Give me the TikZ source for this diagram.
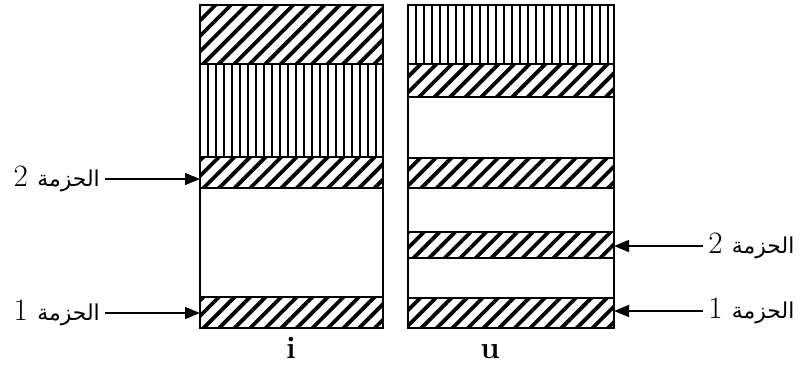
\documentclass[tikz,border=0pt]{standalone}
\usepackage{fontspec}
\newfontfamily\arabicfont[Script=Arabic]{DejaVu Sans}
\TeXXeTstate=1
\usetikzlibrary{positioning,arrows.meta,patterns.meta}
\newcommand\hizma{{\arabicfont\fontsize{17.5}{24}\selectfont\beginR الحزمة\endR}}
\tikzset{
  band/.style={draw=black,line width=1.5pt,anchor=north west,
    inner sep=0pt,outer sep=0pt},
  hatchband/.style={band,pattern={Lines[angle=45,distance=11pt,line width=3.8pt]}},
  stripeband/.style={band,pattern={Lines[angle=90,distance=8pt,line width=1.8pt]}},
  plainband/.style={band,fill=white},
  pointer/.style={-{Triangle[length=15pt,width=12pt]},line width=1.6pt},
  tag/.style={font=\Huge,scale=1.25,inner xsep=4pt,inner ysep=0pt},
  colname/.style={font=\Huge\bfseries,scale=1.25,anchor=base}
}

\begin{document}
\begin{tikzpicture}[x=1pt,y=-1pt]
  \useasboundingbox (0,0) rectangle (803,376);

  % column i
  \node[hatchband,minimum width=183pt,minimum height=59pt] (itop) at (200,5) {};
  \node[stripeband,minimum width=183pt,minimum height=93pt] (istripe) at (200,64) {};
  \node[hatchband,minimum width=183pt,minimum height=31pt] (iband2) at (200,157) {};
  \node[plainband,minimum width=183pt,minimum height=109pt] (igap) at (200,188) {};
  \node[hatchband,minimum width=183pt,minimum height=31pt] (iband1) at (200,297) {};

  % column u
  \node[stripeband,minimum width=206pt,minimum height=59pt] (ustripe) at (408,5) {};
  \node[hatchband,minimum width=206pt,minimum height=33pt] (uhatchA) at (408,64) {};
  \node[plainband,minimum width=206pt,minimum height=61pt] (ugapA) at (408,97) {};
  \node[hatchband,minimum width=206pt,minimum height=30pt] (uhatchB) at (408,158) {};
  \node[plainband,minimum width=206pt,minimum height=44pt] (ugapB) at (408,188) {};
  \node[hatchband,minimum width=206pt,minimum height=26pt] (uband2) at (408,232) {};
  \node[plainband,minimum width=206pt,minimum height=40pt] (ugapC) at (408,258) {};
  \node[hatchband,minimum width=206pt,minimum height=30pt] (uband1) at (408,298) {};

  % labels and arrows
  \node[tag,anchor=east] (ilab2) at (105,179) {2 \hizma};
  \node[tag,anchor=east] (ilab1) at (105,313) {1 \hizma};
  \draw[pointer] (ilab2.east) -- (ilab2.east -| iband2.west);
  \draw[pointer] (ilab1.east) -- (ilab1.east -| iband1.west);

  \node[tag,anchor=west] (ulab2) at (703,246) {2 \hizma};
  \node[tag,anchor=west] (ulab1) at (703,311) {1 \hizma};
  \draw[pointer] (ulab2.west) -- (ulab2.west -| uband2.east);
  \draw[pointer] (ulab1.west) -- (ulab1.west -| uband1.east);

  \node[colname] (iname) at (291,358) {i};
  \node[colname] (uname) at (490,358) {u};
\end{tikzpicture}
\end{document}
